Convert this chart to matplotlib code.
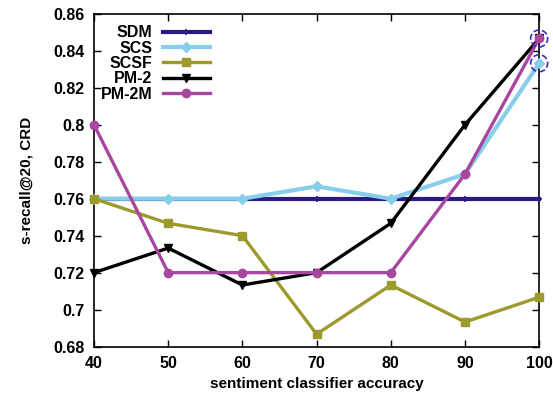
import matplotlib.pyplot as plt
from matplotlib.patches import Ellipse

accuracy = [40, 50, 60, 70, 80, 90, 100]
sdm = [0.76, 0.76, 0.76, 0.76, 0.76, 0.76, 0.76]
scs = [0.76, 0.76, 0.76, 0.7667, 0.76, 0.7733, 0.8333]
scsf = [0.76, 0.7467, 0.74, 0.6867, 0.7133, 0.6933, 0.7067]
pm2 = [0.72, 0.7333, 0.7133, 0.72, 0.7467, 0.80, 0.8467]
pm2m = [0.80, 0.72, 0.72, 0.72, 0.72, 0.7733, 0.8467]

yticks = [0.68, 0.70, 0.72, 0.74, 0.76, 0.78, 0.80, 0.82, 0.84, 0.86]
ytick_labels = ['0.68', '0.7', '0.72', '0.74', '0.76', '0.78', '0.8', '0.82', '0.84', '0.86']

plt.rcParams['font.family'] = ['Liberation Sans', 'DejaVu Sans']
plt.rcParams['font.weight'] = 'bold'

fig = plt.figure(figsize=(5.53, 3.97), dpi=100)
ax = fig.add_axes([0.170, 0.127, 0.805, 0.838])

lw = 2.4
ax.plot(accuracy, sdm, color='#2b1a86', lw=lw + 0.6, marker='+', ms=4, mew=1.2,
        label='SDM', clip_on=False, zorder=3)
ax.plot(accuracy, scs, color='#87ceeb', lw=lw + 0.6, marker='D', ms=5,
        label='SCS', clip_on=False, zorder=3)
ax.plot(accuracy, scsf, color='#9c9a2c', lw=lw, marker='s', ms=6,
        label='SCSF', clip_on=False, zorder=3)
ax.plot(accuracy, pm2, color='black', lw=lw, marker='v', ms=6,
        label='PM-2', clip_on=False, zorder=4)
ax.plot(accuracy, pm2m, color='#a8479e', lw=lw, marker='o', ms=6,
        label='PM-2M', clip_on=False, zorder=5)

ax.set_xlim(40, 100)
ax.set_ylim(0.68, 0.86)

# dashed circles around highlighted points at 100 (sized in pixels)
px_x = 60 / 445.0
px_y = 0.18 / 332.0
for yv in [pm2m[-1], scs[-1]]:
    c = Ellipse((100, yv), width=17 * px_x, height=17 * px_y, fill=False,
                ls='--', lw=1.2, ec='#3a2ad0', clip_on=False, zorder=6)
    ax.add_patch(c)

ax.set_xticks(accuracy)
ax.set_yticks(yticks)
ax.set_yticklabels(ytick_labels)
ax.tick_params(direction='in', top=True, right=True, length=5, width=1,
               labelsize=11.5, pad=7)
for lab in ax.get_xticklabels() + ax.get_yticklabels():
    lab.set_fontweight('bold')
for sp in ax.spines.values():
    sp.set_linewidth(1.2)

ax.set_xlabel('sentiment classifier accuracy', fontsize=11, fontweight='bold')
ax.set_ylabel('s-recall@20, CRD', fontsize=11, fontweight='bold', labelpad=14)

leg = ax.legend(loc='upper left', markerfirst=False, frameon=False,
                fontsize=11.5, handlelength=2.9, labelspacing=0.02,
                handletextpad=0.7, borderaxespad=0.0,
                bbox_to_anchor=(0.0, 0.985))
for t in leg.get_texts():
    t.set_fontweight('bold')

fig.savefig('out.png', dpi=100)
